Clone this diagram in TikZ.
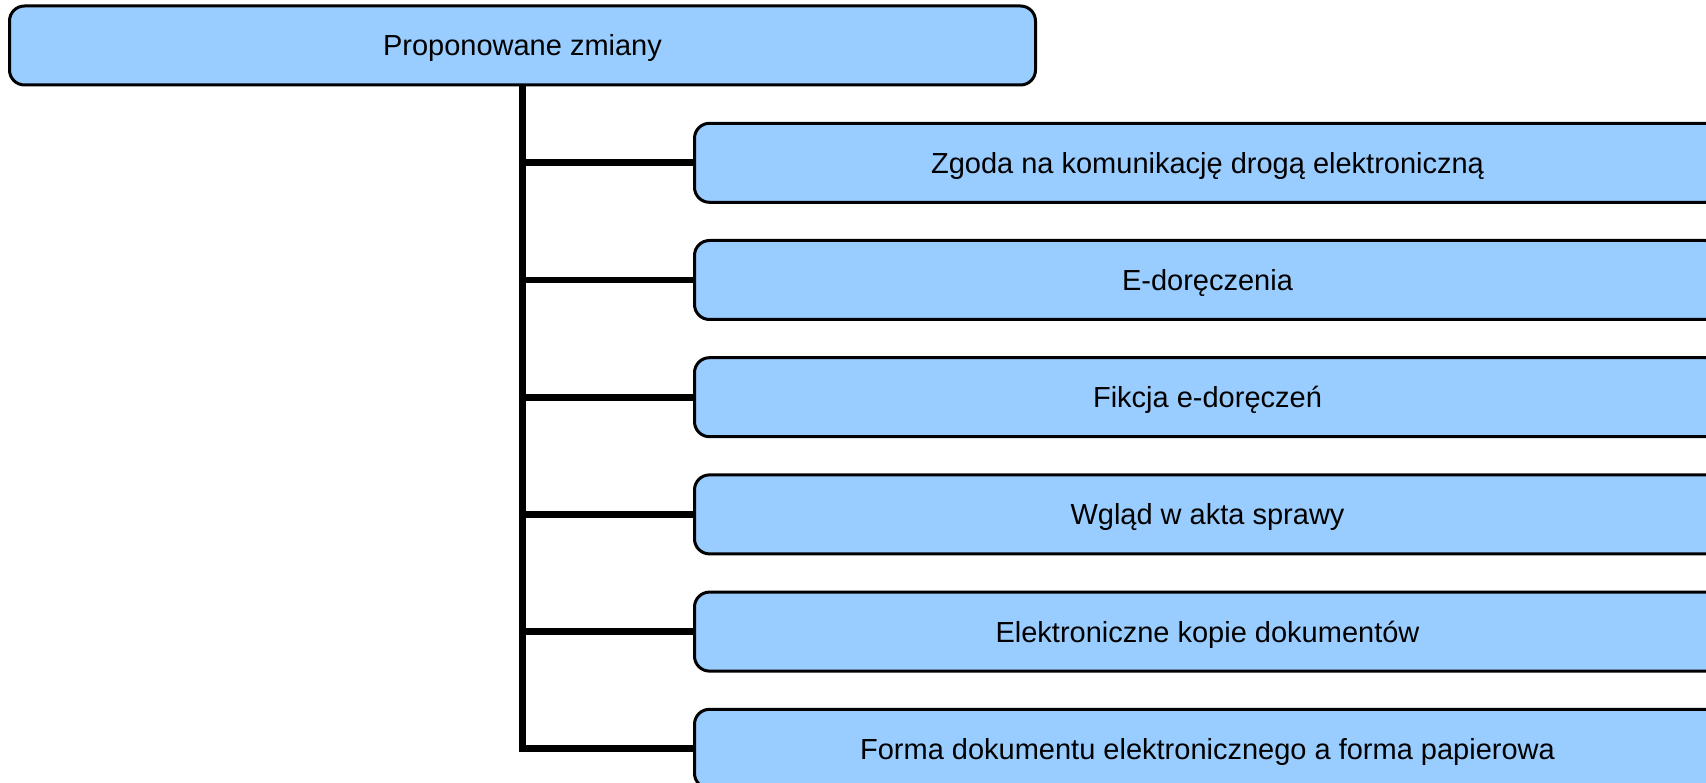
\documentclass[tikz,border=0pt]{standalone}
\usepackage{fontspec}
\setmainfont{Liberation Sans}
\definecolor{boxfill}{HTML}{99CCFF}
\begin{document}
\begin{tikzpicture}[x=1pt,y=-1pt,
  box/.style={draw=black, fill=boxfill, line width=3pt, rounded corners=15pt,
    rectangle, minimum width=1026pt, minimum height=79pt, inner sep=0pt,
    text height=20.8pt, text depth=0pt,
    font=\fontsize{29}{34}\selectfont},
  conn/.style={draw=black, line width=6.8pt, line join=miter}]
\useasboundingbox (0,0) rectangle (1706,783);
\begin{scope}
\clip (0,0) rectangle (1706,783);
\node[box] (top) at (522.5,45.5) {Proponowane zmiany};
\node[box, anchor=west] (c1) at (693,162.8) {Zgoda na komunikację drogą elektroniczną};
\node[box, anchor=west] (c2) at (693,280) {E-doręczenia};
\node[box, anchor=west] (c3) at (693,397.2) {Fikcja e-doręczeń};
\node[box, anchor=west] (c4) at (693,514.4) {Wgląd w akta sprawy};
\node[box, anchor=west] (c5) at (693,631.6) {Elektroniczne kopie dokumentów};
\node[box, anchor=west] (c6) at (693,748.8) {Forma dokumentu elektronicznego a forma papierowa};
\draw[conn] (top.south) |- (c6.west);
\foreach \c in {c1,c2,c3,c4,c5}{
  \draw[conn] (top.south |- \c.west) -- (\c.west);
}
\end{scope}
\end{tikzpicture}
\end{document}
